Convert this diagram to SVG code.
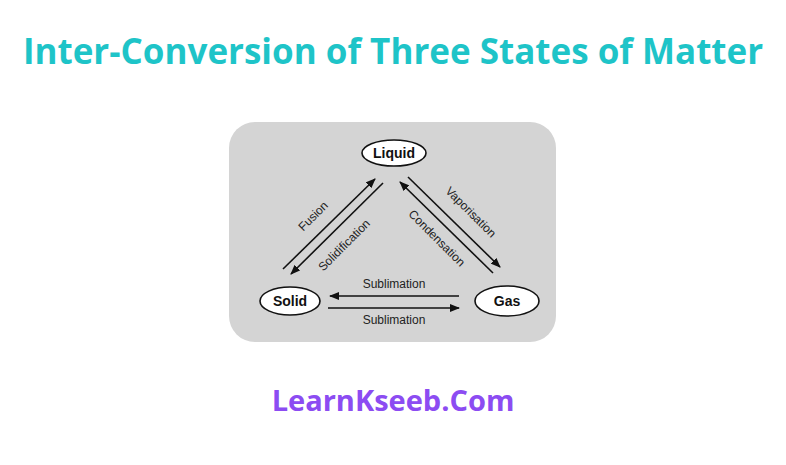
<svg xmlns="http://www.w3.org/2000/svg" width="786" height="465" viewBox="0 0 786 465">
<style>
.t{font-family:"Open Sans","Liberation Sans",sans-serif;font-weight:bold;text-anchor:middle}
.n{fill:#fff;stroke:#111;stroke-width:1.6}
.nl{font-family:"Liberation Sans",Arial,sans-serif;font-weight:bold;font-size:14px;text-anchor:middle;fill:#111}
.el{font-family:"Liberation Sans",Arial,sans-serif;font-size:12px;text-anchor:middle;fill:#222}
.c line{stroke:#111;stroke-width:1.6;marker-end:url(#a)}
</style>
<defs><marker id="a" markerWidth="10" markerHeight="8" refX="9" refY="4" orient="auto" markerUnits="userSpaceOnUse"><path d="M0,0 L10,4 L0,8 Z" fill="#111"/></marker></defs>
<rect width="786" height="465" fill="#fff"/>
<text class="t" x="393" y="64" font-size="35" fill="#1ec4c8">Inter-Conversion of Three States of Matter</text>
<rect x="229" y="122" width="327" height="220" rx="26" fill="#d4d4d4"/>
<g id="liquid"><ellipse class="n" cx="394" cy="153" rx="32" ry="13"/><text class="nl" x="394" y="158">Liquid</text></g>
<g id="solid"><ellipse class="n" cx="290" cy="301" rx="30" ry="14"/><text class="nl" x="290" y="306">Solid</text></g>
<g id="gas"><ellipse class="n" cx="507" cy="301" rx="32" ry="15"/><text class="nl" x="507" y="306">Gas</text></g>
<g class="c" id="connectors">
<line x1="283" y1="269" x2="375" y2="179"/>
<line x1="383" y1="183" x2="291" y2="274"/>
<line x1="408" y1="177" x2="500" y2="267"/>
<line x1="493" y1="273" x2="400" y2="182"/>
<line x1="459" y1="296" x2="330" y2="296"/>
<line x1="328" y1="308" x2="459" y2="308"/>
</g>
<g>
<text class="el" x="394" y="288">Sublimation</text>
<text class="el" x="394" y="324">Sublimation</text>
<text class="el" transform="translate(316,219) rotate(-45)">Fusion</text>
<text class="el" transform="translate(347,248) rotate(-45)">Solidification</text>
<text class="el" transform="translate(468,215) rotate(45)">Vaporisation</text>
<text class="el" transform="translate(434,241) rotate(45)">Condensation</text>
</g>
<text class="t" x="393" y="411" font-size="29" fill="#8c4cf2">LearnKseeb.Com</text>
</svg>
